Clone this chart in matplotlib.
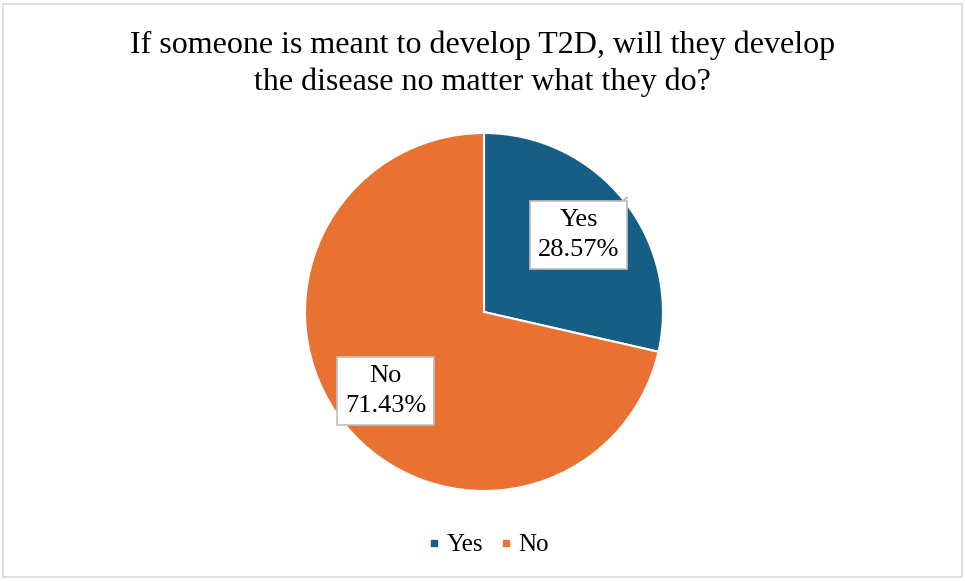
import matplotlib.pyplot as plt
from matplotlib.patches import Rectangle
from matplotlib.lines import Line2D

categories = ["Yes", "No"]
percentages = [28.57, 71.43]
colors = ["#165E83", "#E97132"]
title = "If someone is meant to develop T2D, will they develop\nthe disease no matter what they do?"

plt.rcParams['font.family'] = ['Liberation Serif', 'DejaVu Serif']

W, H = 965, 581
fig = plt.figure(figsize=(W / 100, H / 100), dpi=100)

# outer chart border
fig.patches.append(Rectangle((3 / W, 4 / H), 959 / W, 573 / H, transform=fig.transFigure,
                             fill=False, edgecolor="#D9D9D9", linewidth=1.2))

cx, cy, r = 484, 312, 179
ax = fig.add_axes([(cx - r) / W, (H - cy - r) / H, 2 * r / W, 2 * r / H])
wedges, _ = ax.pie(percentages, colors=colors, startangle=90, counterclock=False,
                   radius=1.0, wedgeprops=dict(edgecolor="white", linewidth=1.5))
ax.set_xlim(-1, 1)
ax.set_ylim(-1, 1)
ax.set_aspect("equal")
ax.axis("off")

label_pos = [(0.53, 0.43), (-0.55, -0.44)]
anchor = [(0.80, 0.64), (-0.81, -0.63)]
for cat, pct, (lx, ly), (axx, ayy) in zip(categories, percentages, label_pos, anchor):
    ax.annotate(f"{cat}\n{pct:.2f}%", xy=(axx, ayy), xytext=(lx, ly),
                ha="center", va="center", fontsize=19, linespacing=1.45,
                bbox=dict(boxstyle="square,pad=0.3", facecolor="white",
                          edgecolor="#BFBFBF", linewidth=1.2),
                arrowprops=dict(arrowstyle="-", color="#BFBFBF", linewidth=1.5,
                                shrinkA=0, shrinkB=0))

fig.text(0.5, 1 - 64 / H, title, ha="center", va="center", fontsize=23, linespacing=1.35)

handles = [Line2D([0], [0], marker="s", linestyle="", markersize=3.8,
                  markerfacecolor=c, markeredgecolor=c) for c in colors]
fig.legend(handles, categories, loc="center", bbox_to_anchor=(489 / W, 1 - 545 / H),
           ncol=2, frameon=False, fontsize=18, handletextpad=0.3, columnspacing=0.7,
           handlelength=0.4)

fig.savefig("out.png", dpi=100, facecolor="white")
